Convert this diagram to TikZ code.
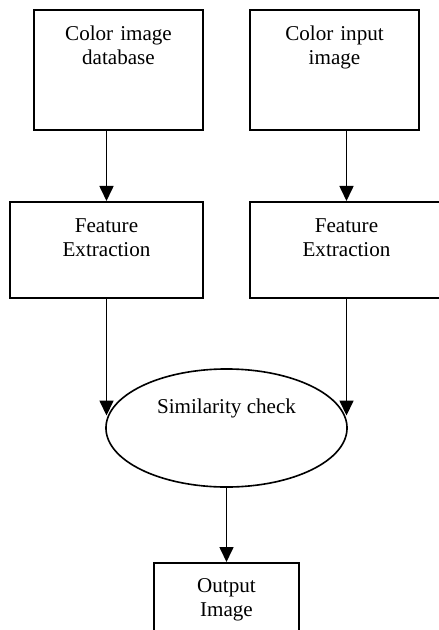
\documentclass[tikz,border=0pt]{standalone}
\usepackage{fontspec}
\setmainfont{Liberation Serif}
\usetikzlibrary{arrows.meta,shapes.geometric}

\begin{document}
\begin{tikzpicture}[x=0.025cm, y=-0.025cm,
    every node/.style={font=\fontsize{15}{17}\selectfont},
    blk/.style={draw, line width=1.4pt, inner sep=0pt, align=center, anchor=north, text height=0.775cm},
    arr/.style={line width=1.15pt, -{Triangle[width=0.35cm,length=0.375cm]}}]
    \useasboundingbox (0,0) rectangle (439,630);
    \clip (0,0) rectangle (439,630);

    \node[blk, text width=4.225cm, text depth=2.225cm] (db) at (118.5,9) {Color image\\database};
    \node[blk, text width=4.225cm, text depth=2.225cm] (inp) at (334.5,9) {Color input\\image};
    \node[blk, text width=4.825cm, text depth=1.625cm] (fe1) at (106.5,201) {Feature\\Extraction};
    \node[blk, text width=4.825cm, text depth=1.625cm] (fe2) at (346.5,201) {Feature\\Extraction};
    \node[draw, ellipse, line width=1.15pt, inner sep=0pt, minimum width=6.025cm, minimum height=2.95cm,
          text height=0.375cm, text depth=1.125cm] (sim) at (226.5,428) {Similarity check};
    \node[blk, text width=3.6cm, text height=0.75cm, text depth=1.5cm] (out) at (226.5,562) {Output\\Image};

    \draw[arr] (fe1.north |- db.south) -- (fe1.north);
    \draw[arr] (fe2.north |- inp.south) -- (fe2.north);
    \draw[arr] (fe1.south) -- (fe1.south |- sim.174);
    \draw[arr] (fe2.south) -- (fe2.south |- sim.6);
    \draw[arr] (sim.south) -- (out.north);
\end{tikzpicture}
\end{document}
